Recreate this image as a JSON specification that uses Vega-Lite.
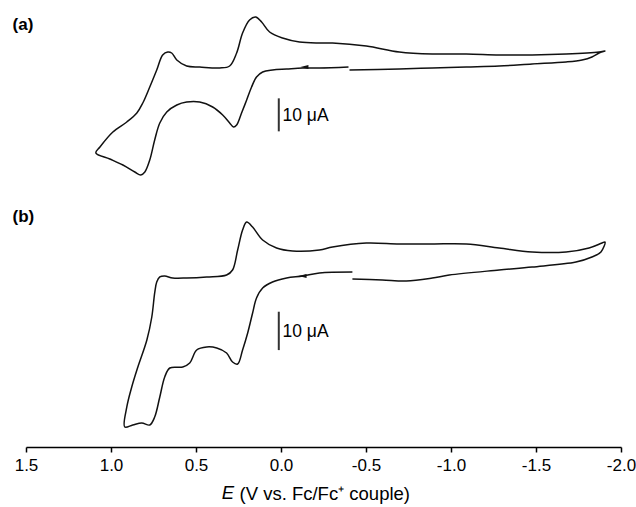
{
  "$schema": "https://vega.github.io/schema/vega-lite/v6.json",
  "autosize": {"type": "none"},
  "padding": {"left": 26, "top": 0, "right": 15, "bottom": 60},
  "width": 595,
  "height": 447,
  "background": "white",
  "config": {"view": {"stroke": null}, "font": "Liberation Sans"},
  "datasets": {
    "cvA": [
      {"i":0,"E":-0.397,"I":0},{"i":1,"E":-0.226,"I":-0.30},{"i":2,"E":-0.127,"I":-0.30},{"i":3,"E":-0.033,"I":-0.61},
      {"i":4,"E":0.050,"I":-0.91},{"i":5,"E":0.108,"I":-1.52},{"i":6,"E":0.144,"I":-3.03},{"i":7,"E":0.173,"I":-6.06},
      {"i":8,"E":0.202,"I":-10.0},{"i":9,"E":0.232,"I":-13.94},{"i":10,"E":0.261,"I":-17.58},{"i":11,"E":0.279,"I":-18.18},
      {"i":12,"E":0.302,"I":-16.97},{"i":13,"E":0.343,"I":-14.55},{"i":14,"E":0.402,"I":-12.12},{"i":15,"E":0.478,"I":-10.61},
      {"i":16,"E":0.555,"I":-10.61},{"i":17,"E":0.613,"I":-11.52},{"i":18,"E":0.672,"I":-13.64},{"i":19,"E":0.713,"I":-16.97},
      {"i":20,"E":0.743,"I":-22.12},{"i":21,"E":0.772,"I":-28.18},{"i":22,"E":0.801,"I":-31.82},{"i":23,"E":0.825,"I":-32.73},
      {"i":24,"E":0.860,"I":-31.82},{"i":25,"E":0.930,"I":-29.70},{"i":26,"E":1.007,"I":-27.88},{"i":27,"E":1.089,"I":-26.06},
      {"i":28,"E":1.065,"I":-24.24},{"i":29,"E":0.989,"I":-19.70},{"i":30,"E":0.907,"I":-16.67},{"i":31,"E":0.848,"I":-13.94},
      {"i":32,"E":0.813,"I":-10.91},{"i":33,"E":0.772,"I":-6.06},{"i":34,"E":0.731,"I":-0.91},{"i":35,"E":0.696,"I":3.64},
      {"i":36,"E":0.666,"I":4.55},{"i":37,"E":0.643,"I":4.24},{"i":38,"E":0.613,"I":2.12},{"i":39,"E":0.555,"I":0.30},
      {"i":40,"E":0.478,"I":0},{"i":41,"E":0.361,"I":-0.30},{"i":42,"E":0.302,"I":0.30},{"i":43,"E":0.261,"I":4.24},
      {"i":44,"E":0.226,"I":10.30},{"i":45,"E":0.185,"I":14.24},{"i":46,"E":0.149,"I":15.15},{"i":47,"E":0.114,"I":13.64},
      {"i":48,"E":0.067,"I":10.61},{"i":49,"E":-0.009,"I":8.79},{"i":50,"E":-0.109,"I":7.58},{"i":51,"E":-0.226,"I":7.27},
      {"i":52,"E":-0.303,"I":7.27},{"i":53,"E":-0.502,"I":6.36},{"i":54,"E":-0.696,"I":4.55},{"i":55,"E":-0.890,"I":3.94},
      {"i":56,"E":-1.090,"I":3.94},{"i":57,"E":-1.283,"I":3.64},{"i":58,"E":-1.477,"I":3.64},{"i":59,"E":-1.677,"I":3.94},
      {"i":60,"E":-1.871,"I":4.55},{"i":61,"E":-1.906,"I":4.85},{"i":62,"E":-1.871,"I":4.24},{"i":63,"E":-1.829,"I":3.03},
      {"i":64,"E":-1.771,"I":2.12},{"i":65,"E":-1.677,"I":1.52},{"i":66,"E":-1.477,"I":0.91},{"i":67,"E":-1.283,"I":0.30},
      {"i":68,"E":-1.090,"I":0},{"i":69,"E":-0.890,"I":-0.30},{"i":70,"E":-0.696,"I":-0.61},{"i":71,"E":-0.403,"I":-0.91}
    ],
    "cvB": [
      {"i":0,"E":-0.420,"I":1.05},{"i":1,"E":-0.226,"I":0.79},{"i":2,"E":-0.127,"I":0},{"i":3,"E":-0.033,"I":-0.53},
      {"i":4,"E":0.050,"I":-1.58},{"i":5,"E":0.108,"I":-3.16},{"i":6,"E":0.144,"I":-5.79},{"i":7,"E":0.167,"I":-9.74},
      {"i":8,"E":0.196,"I":-15.0},{"i":9,"E":0.226,"I":-19.47},{"i":10,"E":0.255,"I":-23.16},{"i":11,"E":0.285,"I":-22.63},
      {"i":12,"E":0.320,"I":-20.26},{"i":13,"E":0.378,"I":-18.95},{"i":14,"E":0.437,"I":-18.68},{"i":15,"E":0.496,"I":-19.47},
      {"i":16,"E":0.537,"I":-22.89},{"i":17,"E":0.578,"I":-23.95},{"i":18,"E":0.654,"I":-24.21},{"i":19,"E":0.684,"I":-26.58},
      {"i":20,"E":0.713,"I":-31.84},{"i":21,"E":0.743,"I":-37.11},{"i":22,"E":0.772,"I":-39.21},{"i":23,"E":0.819,"I":-38.68},
      {"i":24,"E":0.872,"I":-39.21},{"i":25,"E":0.919,"I":-39.74},{"i":26,"E":0.907,"I":-34.47},{"i":27,"E":0.878,"I":-29.21},
      {"i":28,"E":0.842,"I":-23.95},{"i":29,"E":0.789,"I":-16.84},{"i":30,"E":0.760,"I":-10.79},{"i":31,"E":0.743,"I":-4.47},
      {"i":32,"E":0.731,"I":-1.58},{"i":33,"E":0.713,"I":-0.26},{"i":34,"E":0.684,"I":0},{"i":35,"E":0.637,"I":-0.53},
      {"i":36,"E":0.555,"I":-0.53},{"i":37,"E":0.437,"I":-0.26},{"i":38,"E":0.320,"I":0.26},{"i":39,"E":0.285,"I":1.58},
      {"i":40,"E":0.255,"I":6.84},{"i":41,"E":0.226,"I":12.11},{"i":42,"E":0.202,"I":14.21},{"i":43,"E":0.167,"I":12.89},
      {"i":44,"E":0.108,"I":9.47},{"i":45,"E":0.026,"I":7.37},{"i":46,"E":-0.068,"I":6.58},{"i":47,"E":-0.226,"I":6.84},
      {"i":48,"E":-0.303,"I":7.63},{"i":49,"E":-0.502,"I":8.68},{"i":50,"E":-0.696,"I":8.42},{"i":51,"E":-0.890,"I":8.42},
      {"i":52,"E":-1.090,"I":8.42},{"i":53,"E":-1.283,"I":7.37},{"i":54,"E":-1.477,"I":6.32},{"i":55,"E":-1.677,"I":6.32},
      {"i":56,"E":-1.812,"I":7.37},{"i":57,"E":-1.888,"I":8.68},{"i":58,"E":-1.906,"I":8.95},{"i":59,"E":-1.882,"I":6.32},
      {"i":60,"E":-1.829,"I":5.0},{"i":61,"E":-1.735,"I":3.68},{"i":62,"E":-1.477,"I":2.37},{"i":63,"E":-1.283,"I":1.58},
      {"i":64,"E":-0.990,"I":0.26},{"i":65,"E":-0.890,"I":-0.53},{"i":66,"E":-0.737,"I":-1.32},{"i":67,"E":-0.596,"I":-1.05},
      {"i":68,"E":-0.420,"I":-0.79}
    ]
  },
  "encoding": {
    "x": {
      "field": "E", "type": "quantitative",
      "scale": {"domain": [-2, 1.5], "reverse": true, "nice": false, "zero": false},
      "axis": {
        "values": [1.5, 1, 0.5, 0, -0.5, -1, -1.5, -2],
        "labelExpr": "replace(format(datum.value, '.1f'), '\u2212', '-')",
        "labelFlush": false,
        "title": "(V vs. Fc/Fc⁺ couple)",
        "titleAlign": "left", "titleAnchor": "start", "titleX": 213, "titleY": 52, "titleBaseline": "alphabetic",
        "grid": false,
        "tickSize": 5, "tickWidth": 1.5, "tickColor": "#000",
        "domainColor": "#000", "domainWidth": 1.5,
        "labelColor": "#000", "labelFontSize": 17, "labelPadding": 5,
        "titleColor": "#000", "titleFontSize": 18.5, "titleFontWeight": "normal"
      }
    }
  },
  "layer": [
    {
      "encoding": {
        "y": {"field": "I", "type": "quantitative", "scale": {"domain": [-115.15, 20.30], "nice": false, "zero": false}, "axis": null}
      },
      "layer": [
        {
          "data": {"name": "cvA"},
          "mark": {"type": "line", "interpolate": "catmull-rom", "color": "#111", "strokeWidth": 1.5},
          "encoding": {"order": {"field": "i", "type": "quantitative"}}
        },
        {
          "data": {"values": [{"E": -0.138, "I": 0}]},
          "mark": {"type": "point", "shape": "M-1,0L1,-0.5L1,0.5Z", "filled": true, "color": "#111", "size": 64, "opacity": 1}
        },
        {
          "data": {"values": [{"E": 0.013, "I": -9.5, "I2": -19.5}]},
          "mark": {"type": "rule", "color": "#333", "strokeWidth": 2},
          "encoding": {"y2": {"field": "I2"}}
        },
        {
          "data": {"values": [{"E": -0.009, "I": -14.85, "t": "10 μA"}]},
          "mark": {"type": "text", "align": "left", "baseline": "middle", "fontSize": 17.5, "color": "#000"},
          "encoding": {"text": {"field": "t"}}
        },
        {
          "data": {"values": [{"E": 1.579, "I": 12.73, "t": "(a)"}]},
          "mark": {"type": "text", "align": "left", "baseline": "middle", "fontSize": 17, "fontWeight": "bold", "color": "#000"},
          "encoding": {"text": {"field": "t"}}
        }
      ]
    },
    {
      "encoding": {
        "y": {"field": "I", "type": "quantitative", "scale": {"domain": [-45.0, 72.63], "nice": false, "zero": false}, "axis": null}
      },
      "layer": [
        {
          "data": {"name": "cvB"},
          "mark": {"type": "line", "interpolate": "catmull-rom", "color": "#111", "strokeWidth": 1.5},
          "encoding": {"order": {"field": "i", "type": "quantitative"}}
        },
        {
          "data": {"values": [{"E": -0.127, "I": 0}]},
          "mark": {"type": "point", "shape": "M-1,0L1,-0.5L1,0.5Z", "filled": true, "color": "#111", "size": 64, "opacity": 1}
        },
        {
          "data": {"values": [{"E": 0.013, "I": -9.4, "I2": -19.5}]},
          "mark": {"type": "rule", "color": "#333", "strokeWidth": 2},
          "encoding": {"y2": {"field": "I2"}}
        },
        {
          "data": {"values": [{"E": -0.009, "I": -14.66, "t": "10 μA"}]},
          "mark": {"type": "text", "align": "left", "baseline": "middle", "fontSize": 17.5, "color": "#000"},
          "encoding": {"text": {"field": "t"}}
        },
        {
          "data": {"values": [{"E": 1.579, "I": 15.6, "t": "(b)"}]},
          "mark": {"type": "text", "align": "left", "baseline": "middle", "fontSize": 17, "fontWeight": "bold", "color": "#000"},
          "encoding": {"text": {"field": "t"}}
        },
        {
          "data": {"values": [{"E": 0.349, "I": -58.68, "t": "E"}]},
          "mark": {"type": "text", "align": "left", "baseline": "alphabetic", "fontSize": 18.5, "fontStyle": "italic", "color": "#000"},
          "encoding": {"text": {"field": "t"}}
        }
      ]
    }
  ],
  "resolve": {"scale": {"y": "independent"}}
}
